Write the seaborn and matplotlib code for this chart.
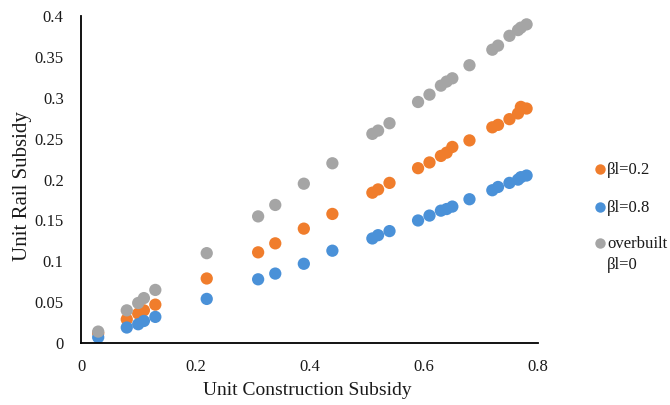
import numpy as np
import pandas as pd
import matplotlib
matplotlib.use("Agg")
import matplotlib.pyplot as plt
from matplotlib.lines import Line2D
import seaborn as sns

# --- data ---
construction = [0.03, 0.08, 0.10, 0.11, 0.13, 0.22, 0.31, 0.34, 0.39, 0.44,
                0.51, 0.52, 0.54, 0.59, 0.61, 0.63, 0.64, 0.65, 0.68, 0.72,
                0.73, 0.75, 0.765, 0.77, 0.78]
rail_b02 = [0.012, 0.029, 0.036, 0.040, 0.047, 0.079, 0.111, 0.122, 0.140, 0.158,
            0.184, 0.188, 0.196, 0.214, 0.221, 0.229, 0.233, 0.240, 0.248, 0.264,
            0.267, 0.274, 0.281, 0.289, 0.287]
rail_b08 = [0.007, 0.019, 0.023, 0.027, 0.032, 0.054, 0.078, 0.085, 0.097, 0.113,
            0.128, 0.132, 0.137, 0.150, 0.156, 0.162, 0.164, 0.167, 0.176, 0.187,
            0.191, 0.196, 0.200, 0.203, 0.205]
rail_overbuilt = [0.014, 0.040, 0.049, 0.055, 0.065, 0.110, 0.155, 0.169, 0.195, 0.220,
                  0.256, 0.260, 0.269, 0.295, 0.304, 0.315, 0.320, 0.324, 0.340, 0.359,
                  0.364, 0.376, 0.383, 0.386, 0.390]
series_names = ["βl=0.2", "βl=0.8", "overbuilt\nβl=0"]
series_colors = ["#F07D2C", "#4A91D8", "#A5A5A5"]

x_ticks = [0, 0.2, 0.4, 0.6, 0.8]
x_ticklabels = ["0", "0.2", "0.4", "0.6", "0.8"]
y_ticks = [0, 0.05, 0.1, 0.15, 0.2, 0.25, 0.3, 0.35, 0.4]
y_ticklabels = ["0", "0.05", "0.1", "0.15", "0.2", "0.25", "0.3", "0.35", "0.4"]


def build_frame():
    parts = []
    for name, vals in zip(series_names, [rail_b02, rail_b08, rail_overbuilt]):
        parts.append(pd.DataFrame({"construction": construction, "rail": vals, "series": name}))
    return pd.concat(parts, ignore_index=True)


df = build_frame()

sns.set_style("white")
plt.rcParams["font.family"] = ["Liberation Serif", "DejaVu Serif"]

fig = plt.figure(figsize=(6.7, 4.05), dpi=100)
ax = fig.add_axes([0.121, 0.153, 0.682, 0.807])

sns.scatterplot(data=df, x="construction", y="rail", hue="series",
                hue_order=series_names, palette=series_colors,
                s=78, linewidth=0, edgecolor="none", ax=ax, legend=False)

ax.set_xlim(0, 0.8)
ax.set_ylim(0, 0.4)
ax.set_xticks(x_ticks)
ax.set_xticklabels(x_ticklabels)
ax.set_yticks(y_ticks)
ax.set_yticklabels(y_ticklabels)
ax.tick_params(axis="both", direction="out", length=4, width=1.2,
               color="black", labelsize=12, labelcolor="#1a1a1a", pad=7.5)
ax.tick_params(axis="y", pad=8.5)

for side in ["top", "right"]:
    ax.spines[side].set_visible(False)
for side in ["left", "bottom"]:
    ax.spines[side].set_color("black")
    ax.spines[side].set_linewidth(1.3)

ax.set_xlabel("Unit Construction Subsidy", fontsize=14, color="#1a1a1a")
ax.set_ylabel("Unit Rail Subsidy", fontsize=15, color="#1a1a1a")
ax.xaxis.set_label_coords(0.495, -0.12)
ax.yaxis.set_label_coords(-0.108, 0.48)

# legend on the right, marker lined up with the first line of each label
legend_y = [0.582, 0.489, 0.400]
for name, color, ypos in zip(series_names, series_colors, legend_y):
    fig.add_artist(Line2D([0.8955], [ypos], transform=fig.transFigure, marker="o",
                          linestyle="", markersize=7.5, markerfacecolor=color,
                          markeredgecolor="none"))
    fig.text(0.906, ypos + 0.017, name, fontsize=12, color="#1a1a1a",
             ha="left", va="top", linespacing=1.4)

fig.savefig("out.png", dpi=100)
